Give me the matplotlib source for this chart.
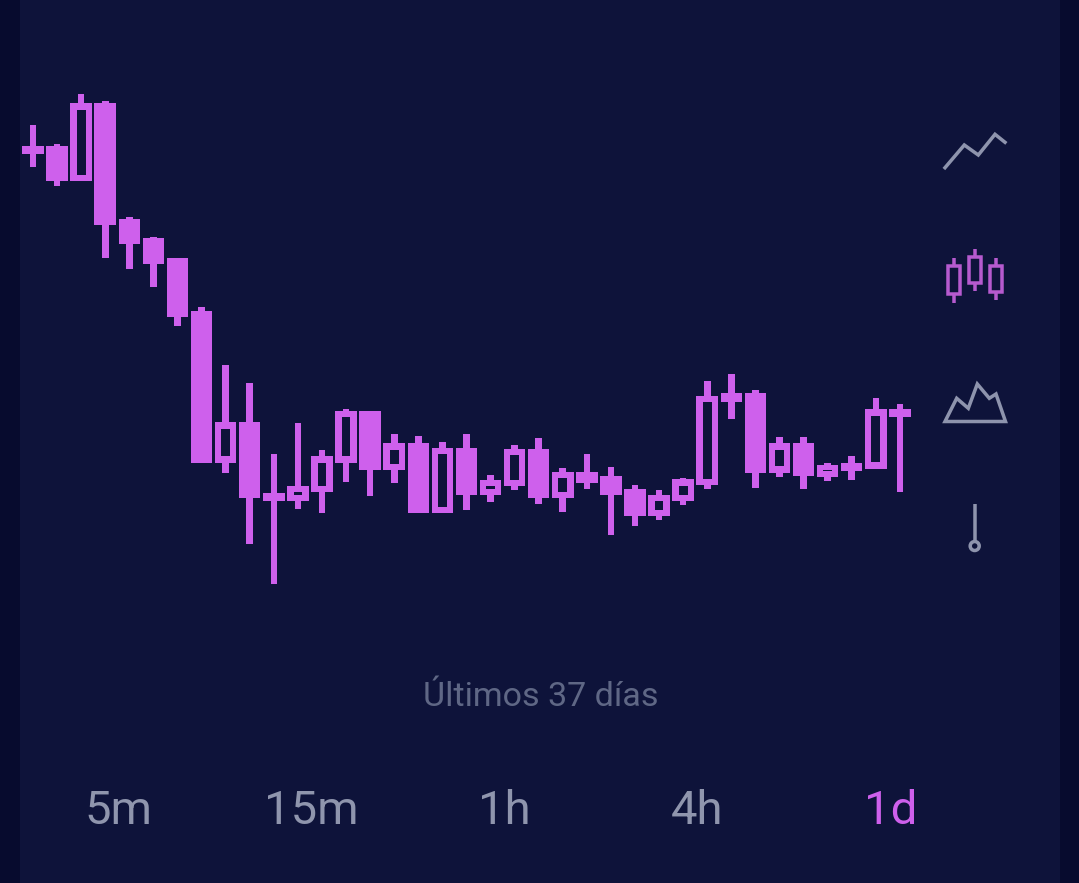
#!/usr/bin/env python

import matplotlib
matplotlib.use('Agg')
import matplotlib.pyplot as plt
import numpy as np
from matplotlib.patches import Circle, Polygon, Rectangle

# candle values (unit: 883 - pixel row)
highs = [757.7, 738.7, 789, 782.3, 666, 646.3, 624.7, 576.3, 518, 500, 429.3, 460, 433,
         473.7, 472.3, 449.3, 446.7, 440.7, 449, 407.7, 438.3, 444.7, 414.7, 428.7, 416,
         398, 393.3, 405.3, 502, 508.7, 493, 445.7, 445.7, 420, 427.3, 485.3, 478.7]
tops = [737, 737, 779.7, 779.7, 664.3, 644.7, 624.7, 572, 460.7, 460.7, 390.3, 397, 426.7,
        472.3, 472.3, 439.7, 439.7, 435.3, 435.3, 403, 434, 434, 411, 410.7, 406.7,
        393.7, 388, 403.7, 487, 489.7, 489.7, 439.7, 439.7, 418.3, 420.3, 473.7, 473.7]
bottoms = [729, 701.7, 701.7, 658.3, 638.7, 618.7, 566, 420.3, 420.3, 384.7, 381.7, 381.7, 391,
           420.3, 413, 413, 370, 370, 388, 388, 397, 384.7, 384.7, 400.3, 388,
           367, 367, 381.7, 398, 481.3, 410.3, 410.3, 406.7, 406.3, 412.3, 414.3, 466]
lows = [716.3, 697, 701.7, 625.3, 614, 596.3, 557, 420.3, 410.3, 339, 299, 374.3, 370,
        401, 387, 400, 370, 370, 373.3, 381.3, 393, 378.7, 371.3, 394.3, 347.7,
        357.3, 363, 377.7, 394.3, 464.3, 394.7, 405.7, 394, 401.7, 403.3, 414.3, 391.3]
hollow = [0, 0, 1, 0, 0, 0, 0, 0, 1, 0, 0, 1, 1,
          1, 0, 1, 0, 1, 0, 1, 1, 0, 1, 0, 0,
          0, 1, 1, 1, 0, 0, 1, 0, 1, 0, 1, 0]

ranges = ['5m', '15m', '1h', '4h', '1d']
range_x = [118, 311, 504, 697, 891]
caption = 'Últimos 37 días'

bg = '#0e133a'
side = '#070b2e'
purple = '#ce60ec'
gray = '#8e94ad'

W, H = 1079, 883
x0, step = 33.0, 24.08
body_w, wick_w, border = 21.5, 6.6, 6.4

fig = plt.figure(figsize=(W / 100, H / 100), dpi=100, facecolor=bg)
ax = fig.add_axes([0, 0, 1, 1])
ax.set_xlim(-x0 / step, (W - x0) / step)
ax.set_ylim(0, H)
ax.axis('off')

# darker strips on both sides of the screen
ax.axvspan(-x0 / step, (20 - x0) / step, color=side, lw=0)
ax.axvspan((1060 - x0) / step, (W - x0) / step, color=side, lw=0)

x = np.arange(len(highs))
highs, tops, bottoms, lows = map(np.array, (highs, tops, bottoms, lows))
hollow = np.array(hollow, dtype=bool)

ax.bar(x, highs - lows, bottom=lows, width=wick_w / step, color=purple, lw=0)
ax.bar(x, tops - bottoms, bottom=bottoms, width=body_w / step, color=purple, lw=0)
ax.bar(x[hollow], tops[hollow] - bottoms[hollow] - 2 * border, bottom=bottoms[hollow] + border,
       width=(body_w - 2 * border) / step, color=bg, lw=0)

# icons and labels are placed in pixels on a second overlay
ov = fig.add_axes([0, 0, 1, 1])
ov.set_xlim(0, W)
ov.set_ylim(H, 0)
ov.axis('off')
ov.patch.set_alpha(0)

line_px = 3.5 * 0.72

ov.plot([945, 964.3, 978.3, 995, 1005], [167.7, 145, 155, 134.3, 142.3],
        color=gray, lw=line_px, solid_joinstyle='miter')

icon_purple = '#b65acf'
for cx, top, bot, hi, lo in [(953.7, 266, 294, 258.3, 302.7),
                             (975, 257.3, 282.7, 249.3, 291),
                             (996, 266, 291.7, 258.3, 300)]:
    ov.plot([cx, cx], [hi, top], color=icon_purple, lw=line_px, solid_capstyle='butt')
    ov.plot([cx, cx], [bot, lo], color=icon_purple, lw=line_px, solid_capstyle='butt')
    ov.add_patch(Rectangle((cx - 6.2, top), 12.4, bot - top, fill=False,
                           ec=icon_purple, lw=line_px))

mountain = [(945, 421.5), (956.7, 398.3), (968.3, 408.3), (977.3, 384), (989.3, 398.3),
            (996, 394), (1005.5, 421.5)]
ov.add_patch(Polygon(mountain, closed=True, fill=False, ec=gray, lw=line_px, joinstyle='miter'))

ov.plot([974.7, 974.7], [504.3, 541.5], color=gray, lw=line_px, solid_capstyle='butt')
ov.add_patch(Circle((974.7, 546), 4.5, fill=False, ec=gray, lw=line_px))

ov.text(540.5, 706, caption, color='#5f6785', fontsize=24.5, family='Roboto',
        ha='center', va='baseline')
for label, lx in zip(ranges, range_x):
    c = purple if label == '1d' else '#8f95ad'
    ov.text(lx, 824, label, color=c, fontsize=34, family='Roboto',
            ha='center', va='baseline')

plt.savefig('out.png', dpi=100, facecolor=bg)
